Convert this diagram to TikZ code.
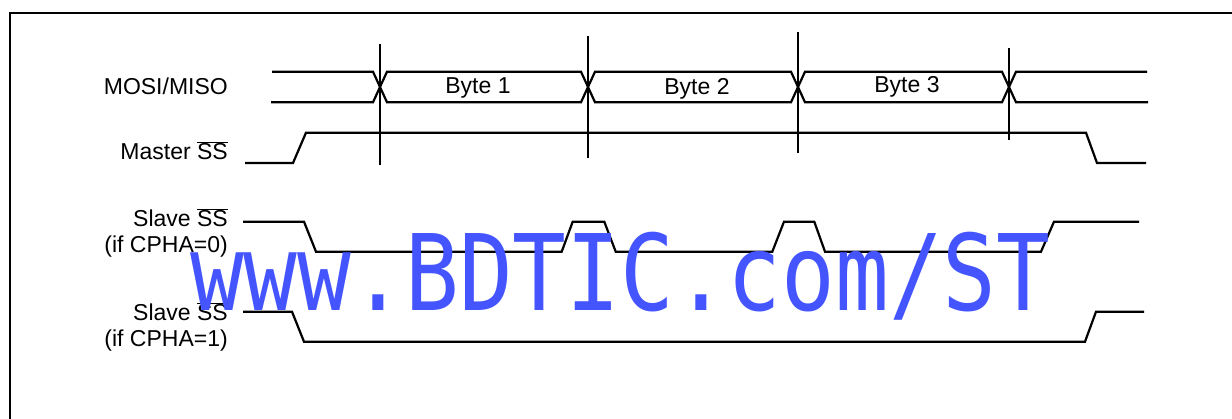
\documentclass[tikz,border=0pt]{standalone}
\usepackage{fontspec}
\setmainfont{Liberation Sans}
\newfontfamily\wmfont{DejaVu Sans Mono}
\usetikzlibrary{positioning}
\definecolor{wmblue}{RGB}{68,85,255}

\begin{document}
\begin{tikzpicture}[x=1pt,y=-1pt,
  every node/.style={font=\fontsize{23}{26}\selectfont,inner sep=0pt},
  sig/.style={line width=2.2pt},
  lbl/.style={anchor=base east}]
\useasboundingbox (0,0) rectangle (1232,419);
% frame
\draw[line width=2.8pt] (10,419) -- (10,13) -- (1232,13);
% labels
\node[lbl] (mosi)    at (228,94.3)  {MOSI/MISO};
\node[lbl] (master)  at (228,160)   {Master $\overline{\mbox{SS}}$};
\node[lbl] (slaveA)  at (228,226.7) {Slave $\overline{\mbox{SS}}$};
\node[lbl] (cphaA)   at ([yshift=-26pt]slaveA.base east) {(if CPHA=0)};
\node[lbl] (slaveB)  at (228,320.7) {Slave $\overline{\mbox{SS}}$};
\node[lbl] (cphaB)   at ([yshift=-26pt]slaveB.base east) {(if CPHA=1)};
% MOSI/MISO bus
\draw[sig] (272,71.7) -- (373,71.7) -- (387,102.3) -- (581,102.3) -- (595,71.7) -- (791,71.7)
  -- (805,102.3) -- (1002,102.3) -- (1016,71.7) -- (1147,71.7);
\draw[sig] (271,102.3) -- (373,102.3) -- (387,71.7) -- (581,71.7) -- (595,102.3) -- (791,102.3)
  -- (805,71.7) -- (1002,71.7) -- (1016,102.3) -- (1148,102.3);
\node[anchor=base] (byteA) at (478,94)   {Byte 1};
\node[anchor=base] (byteB) at (697,94.5) {Byte 2};
\node[anchor=base] (byteC) at (907,92.7) {Byte 3};
% byte boundaries
\foreach \x/\ya/\yb in {380/44/165, 588/36/158, 798/32/153, 1009/48/140}
  \draw[sig] (\x,\ya) -- (\x,\yb);
% Master SS
\draw[sig] (245,163) -- (293,163) -- (306,132.7) -- (1086,132.7) -- (1097,163) -- (1146,163);
% Slave SS, CPHA=0
\draw[sig] (243,221.7) -- (304,221.7) -- (316,251.7) -- (561.7,251.7) -- (572.7,221.7)
  -- (604.3,221.7) -- (615.7,251.7) -- (772.3,251.7) -- (784,221.7) -- (814.3,221.7)
  -- (825,251.7) -- (1041,251.7) -- (1054,221.7) -- (1139,221.7);
% Slave SS, CPHA=1
\draw[sig] (243,311.7) -- (292,311.7) -- (304,341.7) -- (1085,341.7) -- (1096,311.7) -- (1144,311.7);
% watermark
\node[anchor=base west,text=wmblue,font=\wmfont\fontsize{88}{88}\selectfont] (wm)
  at (190,311) {\scalebox{1.015}[1.2]{www.BDTIC.com/ST}};
\end{tikzpicture}
\end{document}
